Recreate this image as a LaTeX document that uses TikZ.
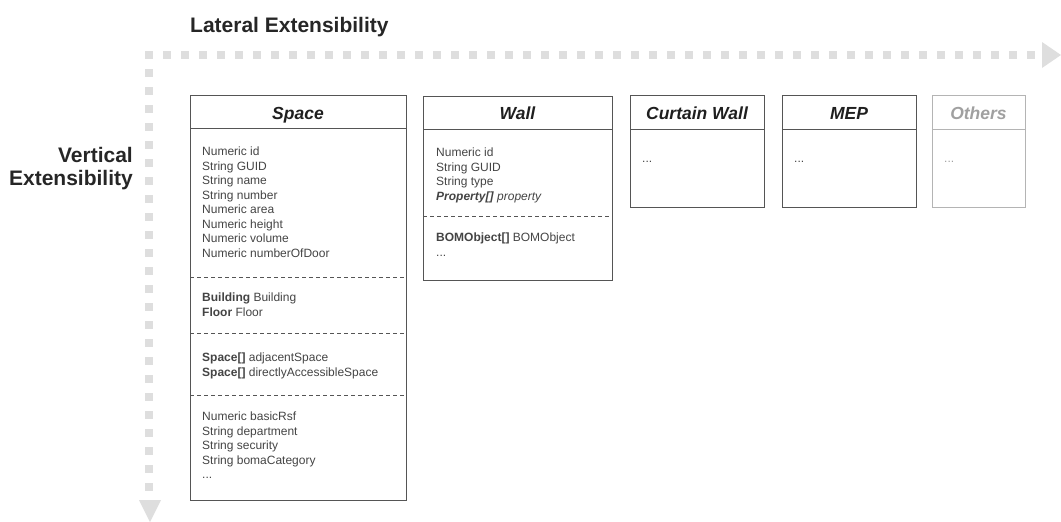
\documentclass[tikz,border=0pt]{standalone}
\usepackage{fontspec}
\setmainfont{Liberation Sans}
\definecolor{axisgray}{HTML}{DEDEDE}
\definecolor{framegray}{HTML}{555555}
\definecolor{bodygray}{HTML}{444444}
\definecolor{faintgray}{HTML}{B4B4B4}
\definecolor{faintext}{HTML}{A0A0A0}
\tikzset{
  classbox/.style={draw=framegray, line width=0.9pt, inner sep=0pt, anchor=north west},
  solidsep/.style={draw=framegray, line width=0.9pt},
  dashsep/.style={draw=framegray, line width=0.8pt, dash pattern=on 4pt off 3pt},
  ctitle/.style={anchor=base, inner sep=0pt, font=\fontsize{17.5}{19}\selectfont\bfseries\itshape, text=black!88},
  attrs/.style={anchor=north west, inner sep=0pt, align=left, font=\fontsize{12}{14.5}\selectfont, text=bodygray},
  heading/.style={inner sep=0pt, font=\fontsize{21}{23}\selectfont\bfseries, text=black!85},
  axisdot/.style={fill=axisgray},
}
\begin{document}
\begin{tikzpicture}[x=1pt, y=-1pt]
\useasboundingbox (0,0) rectangle (1061,522);

% headings
\node[heading, anchor=base west] (lat) at (190,32) {Lateral Extensibility};
\node[heading, anchor=north east, align=right] (vert) at (133,147) {Vertical\\Extensibility};

% dotted axes
\foreach \i in {0,...,49} \fill[axisdot] ({149+18*\i-4},51) rectangle +(8,8);
\foreach \j in {1,...,24} \fill[axisdot] (145,{55+18*\j-4}) rectangle +(8,8);
\fill[axisgray] (1042,42) -- (1061,55) -- (1042,68) -- cycle;
\fill[axisgray] (139,500) -- (161,500) -- (150,522) -- cycle;

% Space class
\node[classbox, minimum width=216pt, minimum height=405pt] (space) at (190,95) {};
\draw[solidsep] (190,128) -- (406,128);
\draw[dashsep] (190,277) -- (406,277);
\draw[dashsep] (190,333) -- (406,333);
\draw[dashsep] (190,395) -- (406,395);
\node[ctitle] (spacet) at (298,119) {Space};
\node[attrs] (spacea) at (202,147) {Numeric id\\String GUID\\String name\\String number\\Numeric area\\Numeric height\\Numeric volume\\Numeric numberOfDoor};
\node[attrs] (spaceb) at (202,293) {\textbf{Building} Building\\\textbf{Floor} Floor};
\node[attrs] (spacec) at (202,353) {\textbf{Space[]} adjacentSpace\\\textbf{Space[]} directlyAccessibleSpace};
\node[attrs] (spaced) at (202,412) {Numeric basicRsf\\String department\\String security\\String bomaCategory\\...};

% Wall class
\node[classbox, minimum width=189pt, minimum height=184pt] (wall) at (423,96) {};
\draw[solidsep] (423,129) -- (612,129);
\draw[dashsep] (423,216) -- (612,216);
\node[ctitle] (wallt) at (517.5,119) {Wall};
\node[attrs] (walla) at (436,148) {Numeric id\\String GUID\\String type\\\textbf{\textit{Property[]}} \textit{property}};
\node[attrs] (wallb) at (436,233) {\textbf{BOMObject[]} BOMObject\\...};

% Curtain Wall class
\node[classbox, minimum width=134pt, minimum height=112pt] (curtain) at (630,95) {};
\draw[solidsep] (630,129) -- (764,129);
\node[ctitle] (curtaint) at (697,119) {Curtain Wall};
\node[attrs] (curtaina) at (642,161) {...};

% MEP class
\node[classbox, minimum width=134pt, minimum height=112pt] (mep) at (782,95) {};
\draw[solidsep] (782,129) -- (916,129);
\node[ctitle] (mept) at (849,119) {MEP};
\node[attrs] (mepa) at (794,161) {...};

% further classes
\node[classbox, draw=faintgray, minimum width=93pt, minimum height=112pt] (others) at (932,95) {};
\draw[solidsep, draw=faintgray] (932,129) -- (1025,129);
\node[ctitle, text=faintext] (otherst) at (978.5,119) {Others};
\node[attrs, text=faintext] (othersa) at (944,161) {...};
\end{tikzpicture}
\end{document}
